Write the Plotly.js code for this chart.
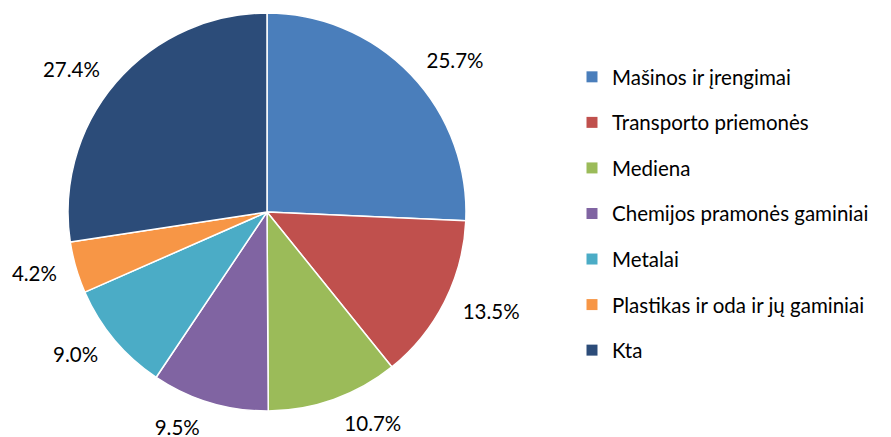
<!DOCTYPE html>
<html><head><meta charset="utf-8">
<script src="https://cdn.plot.ly/plotly-3.0.1.min.js"></script>
<style>html,body{margin:0;padding:0;background:#fff}#chart{width:891px;height:437px}</style>
</head><body><div id="chart"></div>
<script>
const categories = ["Mašinos ir įrengimai","Transporto priemonės","Mediena","Chemijos pramonės gaminiai","Metalai","Plastikas ir oda ir jų gaminiai","Kta"];
const shares = [25.7,13.5,10.7,9.5,9.0,4.2,27.4];
const colors = ["#4A7EBB","#C0504D","#9BBB59","#8064A2","#4BACC6","#F79646","#2C4C79"];

const W = 891, H = 437;
const cx = 267, cy = 212, R = 199, RL = 213;
const font = "Lato, 'Open Sans', sans-serif";

const pie = {
  type: 'pie', labels: categories, values: shares, sort: false, direction: 'clockwise', rotation: 0,
  marker: {colors: colors, line: {color: '#ffffff', width: 1.5}},
  textinfo: 'none', showlegend: false, hoverinfo: 'label+percent',
  domain: {x: [(cx-R)/W, (cx+R)/W], y: [1-(cy+R)/H, 1-(cy-R)/H]}
};
const labelPie = {
  type: 'pie', labels: categories, values: shares, sort: false, direction: 'clockwise', rotation: 0,
  marker: {colors: categories.map(()=>'rgba(0,0,0,0)'), line: {width: 0}},
  texttemplate: shares.map(v => v.toFixed(1) + '%'), textposition: 'outside',
  outsidetextfont: {family: font, size: 20.5, color: '#000'},
  showlegend: false, hoverinfo: 'skip',
  domain: {x: [(cx-RL)/W, (cx+RL)/W], y: [1-(cy+RL)/H, 1-(cy-RL)/H]}
};
const legendTraces = categories.map((c, i) => ({
  type: 'scatter', mode: 'markers', x: [null], y: [null], name: c, legendgroup: 'g' + i,
  marker: {symbol: 'square', size: 11, color: colors[i]}, hoverinfo: 'skip'
}));

Plotly.newPlot('chart', [pie, labelPie, ...legendTraces], {
  width: W, height: H, margin: {l: 0, r: 0, t: 0, b: 0},
  paper_bgcolor: '#fff', plot_bgcolor: 'rgba(0,0,0,0)',
  xaxis: {visible: false}, yaxis: {visible: false},
  showlegend: true,
  legend: {x: 572/W, xanchor: 'left', y: 1 - 57/H, yanchor: 'top', tracegroupgap: 15.9, itemwidth: 30,
    font: {family: font, size: 20.5, color: '#000'}, bgcolor: 'rgba(0,0,0,0)'}
}, {displayModeBar: false, staticPlot: true});
</script></body></html>
